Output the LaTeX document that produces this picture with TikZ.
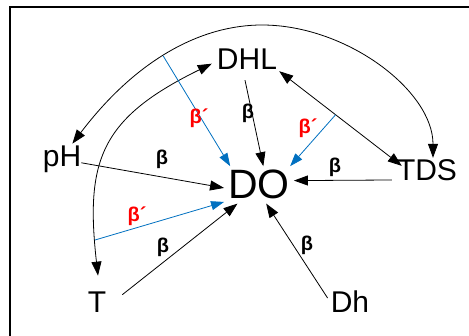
\documentclass[tikz,border=0pt]{standalone}
\usepackage{fontspec}
\setmainfont{Liberation Sans}
\usetikzlibrary{arrows.meta,calc}
\definecolor{lineblue}{RGB}{0,112,192}
\begin{document}
\begin{tikzpicture}[x=1pt,y=-1pt,
  lbl/.style={inner sep=0pt, anchor=base, font=\fontsize{30}{30}\selectfont},
  beta/.style={font=\bfseries\fontsize{20}{20}\selectfont, inner sep=0pt},
  betap/.style={beta, text=red},
  arr/.style={-{Triangle[length=14pt,width=10pt]}, line width=0.8pt},
  darr/.style={{Triangle[length=14pt,width=10pt]}-{Triangle[length=14pt,width=10pt]}, line width=0.8pt},
  barr/.style={-{Triangle[length=13pt,width=9pt]}, line width=0.8pt, draw=lineblue},
]
\useasboundingbox (0,0) rectangle (469,336);
\draw[line width=2pt] (10,350) -- (10,7) -- (480,7);

% nodes
\node[lbl] (DHL) at (247,70) {DHL};
\node[lbl, font=\fontsize{41}{41}\selectfont, inner sep=4pt] (DO) at (259,199) {DO};
\node[lbl] (TDS) at (427,181) {TDS};
\node[lbl] (pH) at (62,167) {pH};
\node[lbl] (T) at (97,313) {T};
\node[lbl] (Dh) at (350,313) {Dh};

% direct effects
\draw[arr] ([yshift=-3pt]pH.east) -- (DO.185);
\draw[arr] ([xshift=16pt,yshift=-2.5pt]T.north east) -- (DO.221);
\draw[arr] ([xshift=-3pt,yshift=-7pt]Dh.north west) -- (DO.291);
\draw[arr] ([xshift=-5pt,yshift=1.5pt]TDS.south west) -- (DO.7);
\draw[arr] ([xshift=-2pt,yshift=-10pt]DHL.south) -- (DO.77);

% correlations
\draw[darr] ([xshift=-9pt,yshift=2.5pt]pH.north east) .. controls (137,58.5) and (202,25) .. (262,25) coordinate[pos=0.47] (arcB)
  .. controls (347,25) and (433,91) .. ([xshift=6pt,yshift=2pt]TDS.north);
\draw[darr] ([xshift=1pt,yshift=16.5pt]T.north) .. controls (85,160) and (101,118) .. ([xshift=-5pt,yshift=-4pt]DHL.west) coordinate[pos=0.11] (curT);
\draw[darr] ([xshift=2pt,yshift=-1pt]DHL.south east) -- ([xshift=5pt,yshift=-6pt]TDS.north west) coordinate[pos=0.46] (midDT);

% indirect effects
\draw[barr] (arcB) -- (DO.147);
\draw[barr] (curT) -- (DO.206);
\draw[barr] (midDT) -- (DO.31);

% labels
\node[beta] at (162,159) {β};
\node[beta] at (163,247) {β};
\node[beta] at (307,245) {β};
\node[beta] at (335,167) {β};
\node[beta] at (248,113) {β};
\node[betap] at (199,118) {β´};
\node[betap] at (137,216) {β´};
\node[betap] at (308,128) {β´};
\end{tikzpicture}
\end{document}
